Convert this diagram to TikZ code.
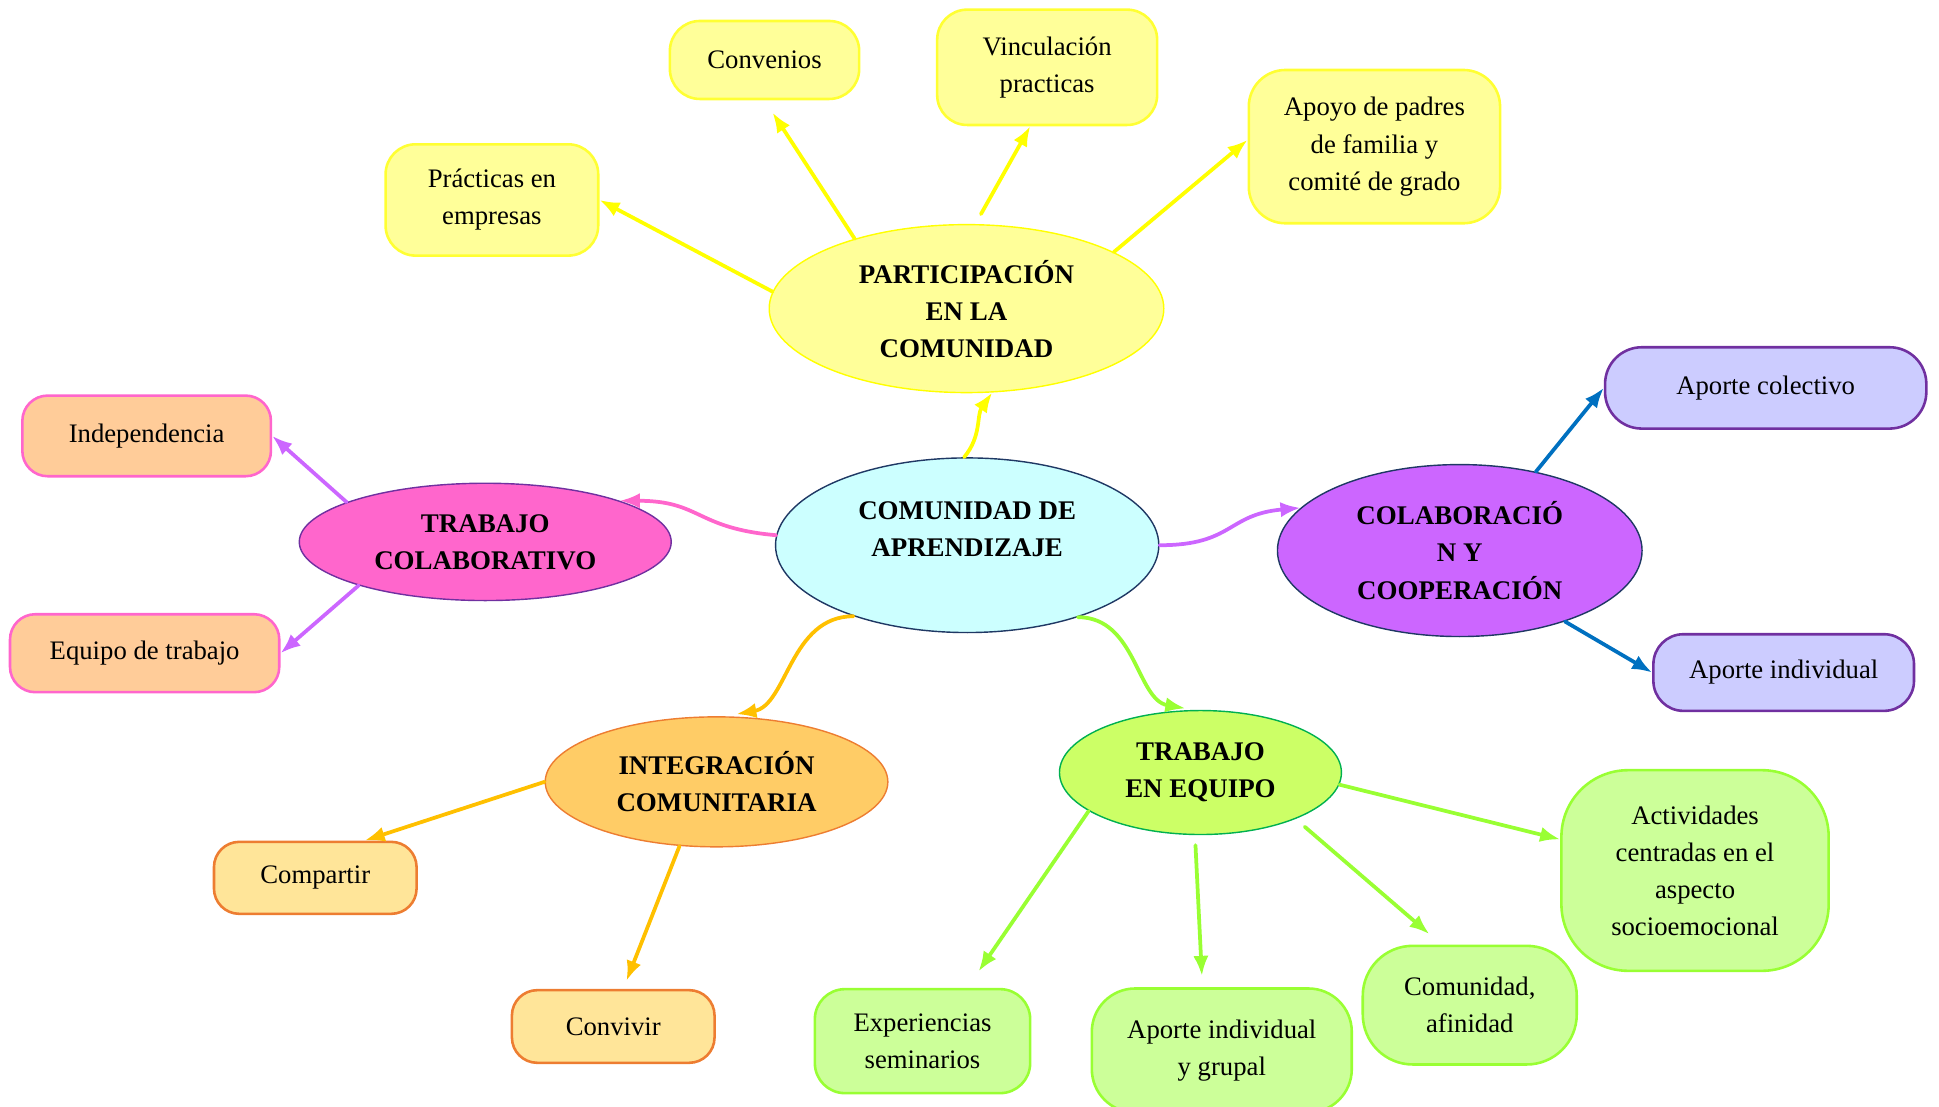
\documentclass[tikz,border=0pt]{standalone}
\usepackage{fontspec}
\setmainfont{Liberation Serif}
\usetikzlibrary{shapes.geometric, arrows.meta}

\definecolor{cenfill}{HTML}{CCFFFF}
\definecolor{navy}{HTML}{1F3864}
\definecolor{yelfill}{HTML}{FFFF99}
\definecolor{yelline}{HTML}{FFFF00}
\definecolor{pinkfill}{HTML}{FF66CC}
\definecolor{violet}{HTML}{7030A0}
\definecolor{peach}{HTML}{FFCC99}
\definecolor{lilac}{HTML}{CC66FF}
\definecolor{lavender}{HTML}{CCCCFF}
\definecolor{bluearr}{HTML}{0070C0}
\definecolor{orafill}{HTML}{FFCC66}
\definecolor{oraline}{HTML}{ED7D31}
\definecolor{oraarr}{HTML}{FFC000}
\definecolor{cream}{HTML}{FFE599}
\definecolor{limefill}{HTML}{CCFF66}
\definecolor{greenline}{HTML}{00B050}
\definecolor{greenarr}{HTML}{99FF33}
\definecolor{mint}{HTML}{CCFF99}

\tikzset{
  topic/.style={ellipse, draw, line width=0.6pt, inner sep=0pt, align=center,
    font=\fontsize{11.5}{15.8}\selectfont\bfseries},
  leaf/.style={rectangle, draw, rounded corners=0.45cm, line width=1.1pt,
    inner sep=0pt, align=center, font=\fontsize{11.4}{15.8}\selectfont},
  link/.style={->, line width=1.6pt},
}

\begin{document}
\begin{tikzpicture}[cap=round,>={Latex[length=0.3cm,width=0.23cm]}]
  \useasboundingbox (0,0) rectangle (29.09,16.60);

  % main ellipses
  \node[topic, fill=cenfill, draw=navy, minimum width=5.75cm, minimum height=2.62cm] (central) at (14.51,8.42) {COMUNIDAD DE\\APRENDIZAJE\\[-2pt]\mbox{}};
  \node[topic, fill=yelfill, draw=yelline, minimum width=5.92cm, minimum height=2.52cm] (part) at (14.50,11.97) {PARTICIPACIÓN\\EN LA\\COMUNIDAD};
  \node[topic, fill=pinkfill, draw=violet, minimum width=5.58cm, minimum height=1.76cm] (tcolab) at (7.28,8.47) {TRABAJO\\COLABORATIVO};
  \node[topic, fill=lilac, draw=navy, minimum width=5.47cm, minimum height=2.58cm] (colab) at (21.90,8.34) {COLABORACIÓ\\N Y\\COOPERACIÓN};
  \node[topic, fill=orafill, draw=oraline, minimum width=5.14cm, minimum height=1.95cm] (integ) at (10.75,4.87) {INTEGRACIÓN\\COMUNITARIA};
  \node[topic, fill=limefill, draw=greenline, minimum width=4.23cm, minimum height=1.86cm] (tequipo) at (18.01,5.01) {TRABAJO\\EN EQUIPO};

  % yellow leaves
  \node[leaf, fill=yelfill, draw=yelline!80!white, minimum width=2.84cm, minimum height=1.17cm] (conv) at (11.47,15.70) {Convenios};
  \node[leaf, fill=yelfill, draw=yelline!80!white, minimum width=3.30cm, minimum height=1.73cm] (vinc) at (15.71,15.59) {Vinculación\\practicas};
  \node[leaf, fill=yelfill, draw=yelline!80!white, rounded corners=0.55cm, minimum width=3.77cm, minimum height=2.30cm] (apoyo) at (20.62,14.40) {Apoyo de padres\\de familia y\\comité de grado};
  \node[leaf, fill=yelfill, draw=yelline!80!white, minimum width=3.19cm, minimum height=1.67cm] (prac) at (7.38,13.60) {Prácticas en\\empresas};

  % pink side
  \node[leaf, fill=peach, draw=pinkfill, rounded corners=0.38cm, minimum width=3.73cm, minimum height=1.21cm] (indep) at (2.20,10.06) {Independencia};
  \node[leaf, fill=peach, draw=pinkfill, rounded corners=0.38cm, minimum width=4.04cm, minimum height=1.17cm] (equipo) at (2.17,6.80) {Equipo de trabajo};

  % purple side
  \node[leaf, fill=lavender, draw=violet, rounded corners=0.55cm, minimum width=4.82cm, minimum height=1.22cm] (apcol) at (26.49,10.78) {Aporte colectivo};
  \node[leaf, fill=lavender, draw=violet, minimum width=3.91cm, minimum height=1.15cm] (apind) at (26.76,6.51) {Aporte individual};

  % orange side
  \node[leaf, fill=cream, draw=oraline, rounded corners=0.38cm, minimum width=3.04cm, minimum height=1.08cm] (comp) at (4.73,3.43) {Compartir};
  \node[leaf, fill=cream, draw=oraline, rounded corners=0.38cm, minimum width=3.04cm, minimum height=1.09cm] (convi) at (9.20,1.20) {Convivir};

  % green side
  \node[leaf, fill=mint, draw=greenarr, minimum width=3.23cm, minimum height=1.56cm] (exper) at (13.84,0.98) {Experiencias\\seminarios};
  \node[leaf, fill=mint, draw=greenarr, rounded corners=0.65cm, minimum width=3.90cm, minimum height=1.86cm] (apgrup) at (18.33,0.84) {Aporte individual\\y grupal};
  \node[leaf, fill=mint, draw=greenarr, rounded corners=0.75cm, minimum width=3.21cm, minimum height=1.78cm] (comaf) at (22.05,1.52) {Comunidad,\\afinidad};
  \node[leaf, fill=mint, draw=greenarr, rounded corners=1cm, minimum width=4.01cm, minimum height=3.01cm] (activ) at (25.43,3.54) {Actividades\\centradas en el\\aspecto\\socioemocional};

  % curved links from the centre
  \draw[link, yelline] (central.92) to[out=50,in=235] (part.287);
  \draw[link, pinkfill] (central.177) to[out=175,in=0,looseness=1.3] (tcolab.17);
  \draw[link, lilac] (central.0) to[out=0,in=185,looseness=1.3] (colab.165);
  \draw[link, oraarr, shorten >=0.18cm] (central.212) to[out=180,in=10] (integ.83);
  \draw[link, greenarr, shorten >=0.13cm] (central.327) to[out=0,in=170] (tequipo.96);

  % participacion
  \draw[link, yelline] (part.175) -- (prac.east);
  \draw[link, yelline, shorten >=0.22cm] (part.148) -- (conv.south);
  \draw[link, yelline, shorten <=0.17cm] (part.84) -- (vinc.254);
  \draw[link, yelline] (part.21) -- (apoyo.177);

  % trabajo colaborativo
  \draw[link, lilac] (tcolab.164) -- (indep.east);
  \draw[link, lilac] (tcolab.199) -- (equipo.east);

  % colaboracion
  \draw[link, bluearr] (colab.46) -- (apcol.west);
  \draw[link, bluearr] (colab.326) -- (apind.west);

  % integracion
  \draw[link, oraarr] (integ.180) -- (comp.37);
  \draw[link, oraarr, shorten >=0.13cm] (integ.240) -- (convi.75);

  % trabajo en equipo
  \draw[link, greenarr, shorten >=0.3cm] (tequipo.199) -- (exper.50);
  \draw[link, greenarr, shorten <=0.15cm, shorten >=0.17cm] (tequipo.265) -- (apgrup.107);
  \draw[link, greenarr, shorten <=0.18cm, shorten >=0.24cm] (tequipo.334) -- (comaf.115);
  \draw[link, greenarr] (tequipo.355) -- (activ.167);
\end{tikzpicture}
\end{document}
